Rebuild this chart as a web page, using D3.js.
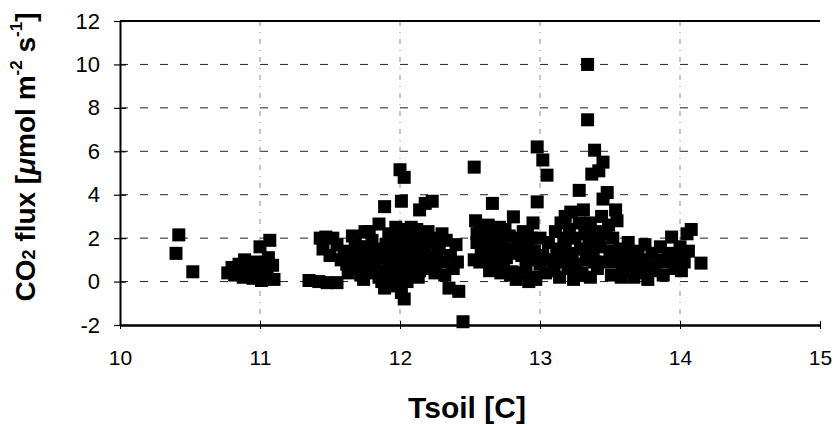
<!DOCTYPE html>
<html>
<head>
<meta charset="utf-8">
<script src="https://cdn.jsdelivr.net/npm/d3@7"></script>
<style>
  body { margin: 0; background: #fff; }
  text { font-family: "Liberation Sans", Arial, sans-serif; fill: #000; }
</style>
</head>
<body>
<div id="chart"></div>
<script>
// soil temperature [C] and CO2 flux (one entry per square)
const tsoil = [
  10.42, 10.40, 10.52,
  10.77, 10.80, 10.82, 10.85, 10.87, 10.89, 10.91, 10.93, 10.95, 10.97, 10.99, 11.00, 11.01, 11.03, 11.05, 11.07, 11.09, 11.10, 10.88, 11.06,
  11.35, 11.42, 11.48, 11.55, 11.43, 11.47, 11.52, 11.45, 11.50, 11.55, 11.58, 11.60, 11.62, 11.63, 11.65, 11.67, 11.68, 11.70, 11.72, 11.73,
  11.75, 11.76, 11.78, 11.80, 11.80, 11.82, 11.83, 11.85, 11.85, 11.87, 11.89, 11.89, 11.90, 11.90, 11.92, 11.93, 11.94, 11.95, 11.96, 11.97,
  11.98, 11.98, 12.00, 12.01, 12.00, 12.00, 12.01, 12.03, 12.03, 12.03, 12.04, 12.05, 12.06, 12.07, 12.08, 12.09, 12.10, 12.10, 12.12, 12.13,
  12.14, 12.15, 12.16, 12.18, 12.18, 12.20, 12.20, 12.23, 12.22, 12.24, 12.25, 12.27, 12.29, 12.30, 12.32, 12.33, 12.36, 12.38, 12.40, 12.41,
  12.35, 12.42, 12.45,
  11.66, 11.70, 11.74, 11.78, 11.84, 11.87, 11.92, 11.97, 12.08, 12.12, 12.02, 12.06, 12.11, 12.14, 12.17, 12.26,
  11.77, 11.81, 11.91, 11.99, 12.04, 12.13, 12.19, 12.28,
  12.53, 12.54, 12.55, 12.57, 12.58, 12.60, 12.61, 12.63, 12.65, 12.66, 12.67, 12.68, 12.70, 12.71, 12.73, 12.74, 12.76, 12.78, 12.80, 12.81,
  12.80, 12.84, 12.85, 12.87, 12.88, 12.90, 12.91, 12.93, 12.95, 12.95, 12.96, 12.98, 12.98, 13.00, 13.00, 13.02, 13.05, 13.02, 13.04,
  12.53, 12.55, 12.64, 12.72, 12.79, 12.83, 12.92, 12.97, 12.69, 12.77, 12.89, 12.94,
  12.57, 12.62, 12.66, 12.75, 12.83, 12.86, 12.91, 12.99,
  13.06, 13.08, 13.10, 13.11, 13.12, 13.14, 13.15, 13.16, 13.18, 13.18, 13.20, 13.21, 13.22, 13.23, 13.24, 13.25, 13.26, 13.28, 13.28, 13.29,
  13.30, 13.31, 13.32, 13.33, 13.34, 13.34, 13.35, 13.36, 13.36, 13.37, 13.38, 13.39, 13.40, 13.41, 13.42, 13.43, 13.44, 13.45, 13.45, 13.46,
  13.47, 13.48, 13.50, 13.51, 13.52, 13.54, 13.55, 13.55, 13.57, 13.58, 13.60, 13.62, 13.63, 13.65, 13.67, 13.68, 13.70, 13.72, 13.74, 13.75,
  13.77, 13.78, 13.80, 13.82, 13.84, 13.86, 13.88, 13.90, 13.92, 13.94, 13.96, 13.98, 14.00, 14.01, 14.03, 14.05, 14.06, 14.08, 14.15,
  13.13, 13.17, 13.19, 13.27, 13.39, 13.42, 13.49, 13.53, 13.59, 13.64, 13.71
];
const flux = [
  2.15, 1.30, 0.45,
  0.40, 0.65, 0.30, 0.80, 0.50, 1.00, 0.30, 0.60, 0.15, 0.90, 0.45, 1.60, 0.05, 0.70, 0.30, 1.90, 0.75, 0.10, 0.20, 1.10,
  0.05, 0.00, -0.05, -0.05, 2.00, 2.05, 2.00, 1.50, 1.20, 1.70, 1.00, 1.40, 0.80, 0.40, 1.20, 0.60, 1.80, 1.00, 0.30, 1.50,
  2.30, 0.70, 1.20, 1.90, 0.40, 0.90, 1.50, 2.65, 0.20, 1.10, 3.45, -0.30, 1.70, 0.50, 2.20, 0.00, 1.30, 0.80, 2.00, -0.20,
  1.50, 0.30, 5.15, 3.70, 1.00, 2.30, -0.50, -0.80, 4.80, 0.60, 1.80, 0.00, 2.40, 1.20, 0.40, 1.60, 2.10, 0.80, 1.30, 0.20,
  3.30, 1.90, 0.90, 3.60, 1.40, 2.30, 0.60, 3.70, 1.10, 2.00, 0.40, 1.50, 0.90, 2.20, 0.30, 1.90, 1.20, 0.60, 1.70, 0.90,
  -0.30, -0.45, -1.85,
  2.10, 1.60, 0.10, 2.30, 1.30, 0.00, 1.00, 2.50, 2.50, 2.40, 1.40, 0.90, 1.70, 0.50, 2.20, 1.00,
  1.60, 0.60, 1.40, 1.90, 1.00, 1.10, 1.80, 1.80,
  5.27, 2.80, 1.80, 2.40, 1.40, 2.10, 1.00, 2.60, 1.60, 3.60, 2.20, 0.80, 1.30, 2.50, 1.80, 0.60, 1.10, 2.10, 1.50, 2.98,
  0.45, 1.90, 0.40, 1.20, 2.30, 0.60, 1.60, 1.00, 2.70, 0.20, 1.40, 3.67, 6.20, 0.80, 2.00, 5.60, 4.90, 1.20, 0.40,
  1.00, 2.20, 0.50, 0.40, 0.30, 0.10, 0.00, 0.10, 1.90, 1.50, 1.70, 2.00,
  0.90, 1.80, 1.10, 2.40, 1.30, 2.00, 2.20, 1.10,
  1.80, 1.00, 0.50, 2.30, 1.50, 0.20, 2.70, 1.00, 3.00, 1.80, 0.60, 2.40, 3.20, 1.30, 0.10, 2.00, 0.80, 4.20, 2.70, 1.50,
  0.40, 3.30, 2.20, 1.00, 10.00, 7.45, 1.80, 2.70, 0.20, 4.95, 1.30, 6.05, 2.30, 0.60, 5.10, 1.60, 3.00, 5.50, 3.80, 0.90,
  2.20, 4.10, 1.40, 0.30, 2.00, 3.30, 2.80, 0.90, 1.50, 0.20, 1.00, 0.50, 1.80, 1.30, 0.20, 0.80, 1.40, 0.40, 1.00, 1.70,
  0.10, 0.70, 1.30, 0.50, 1.00, 1.60, 0.30, 0.90, 1.30, 2.05, 0.60, 1.10, 1.60, 0.50, 0.90, 2.20, 1.40, 2.40, 0.85,
  0.90, 2.00, 1.20, 0.30, 0.90, 1.90, 2.60, 1.10, 0.60, 0.90, 0.80
];
const xTicks = [10, 11, 12, 13, 14, 15];
const yTicks = [-2, 0, 2, 4, 6, 8, 10, 12];

const width = 836;
const height = 430;
const margin = { top: 21, right: 16, bottom: 105, left: 120 };

const x = d3.scaleLinear()
    .domain([10, 15])
    .range([margin.left, width - margin.right]);

const y = d3.scaleLinear()
    .domain([-2, 12])
    .range([height - margin.bottom, margin.top]);

const svg = d3.select("#chart")
  .append("svg")
    .attr("width", width)
    .attr("height", height);

// horizontal dashed grid
svg.append("g")
  .selectAll("line")
  .data(yTicks.filter(d => d > -2 && d < 12))
  .join("line")
    .attr("x1", x(10))
    .attr("x2", x(15))
    .attr("y1", d => y(d))
    .attr("y2", d => y(d))
    .attr("stroke", "#222")
    .attr("stroke-width", 1)
    .attr("stroke-dasharray", "8,12");

// vertical dash-dot grid
svg.append("g")
  .selectAll("line")
  .data(xTicks.filter(d => d > 10 && d < 15))
  .join("line")
    .attr("x1", d => x(d))
    .attr("x2", d => x(d))
    .attr("y1", y(12))
    .attr("y2", y(-2))
    .attr("stroke", "#888")
    .attr("stroke-width", 1)
    .attr("stroke-dasharray", "5,6,1,6");

// top frame line
svg.append("line")
    .attr("x1", x(10))
    .attr("x2", x(15))
    .attr("y1", y(12))
    .attr("y2", y(12))
    .attr("stroke", "#000")
    .attr("stroke-width", 2);

// y axis
const yAxis = svg.append("g")
    .attr("transform", `translate(${x(10)},0)`)
    .call(d3.axisLeft(y).tickValues(yTicks).tickFormat(d => String(d))
      .tickSizeInner(6).tickSizeOuter(0).tickPadding(14));
yAxis.select(".domain").attr("stroke-width", 2);
yAxis.selectAll(".tick line").attr("x2", 6).attr("x1", -6).attr("stroke-width", 1.2);
yAxis.selectAll("text").style("font-size", "22px");

// x axis
const xAxis = svg.append("g")
    .attr("transform", `translate(0,${y(-2)})`)
    .call(d3.axisBottom(x).tickValues(xTicks).tickFormat(d => String(d))
      .tickSizeInner(4).tickSizeOuter(0).tickPadding(21));
xAxis.select(".domain").attr("stroke-width", 2.5);
xAxis.selectAll(".tick line").attr("y1", -4).attr("stroke-width", 1);
xAxis.selectAll("text").style("font-size", "21px");

// squares
const size = 13;
svg.append("g")
  .selectAll("rect")
  .data(d3.range(tsoil.length))
  .join("rect")
    .attr("x", i => x(tsoil[i]) - size / 2)
    .attr("y", i => y(flux[i]) - size / 2)
    .attr("width", size)
    .attr("height", size)
    .attr("fill", "#000");

// axis titles
svg.append("text")
    .attr("x", 467)
    .attr("y", 418)
    .attr("text-anchor", "middle")
    .style("font-size", "30px")
    .style("font-weight", "bold")
    .text("Tsoil [C]");

const yTitle = svg.append("text")
    .attr("transform", "translate(35,157) rotate(-90)")
    .attr("text-anchor", "middle")
    .style("font-size", "28px")
    .style("font-weight", "bold");
yTitle.append("tspan").text("CO");
yTitle.append("tspan").style("font-size", "18px").text("2");
yTitle.append("tspan").text(" flux [");
yTitle.append("tspan").style("font-style", "italic").text("\u03bc");
yTitle.append("tspan").text("mol m");
yTitle.append("tspan").style("font-size", "17px").attr("dy", -13).text("-2");
yTitle.append("tspan").attr("dy", 13).text(" s");
yTitle.append("tspan").style("font-size", "17px").attr("dy", -13).text("-1");
yTitle.append("tspan").attr("dy", 13).text("]");
</script>
</body>
</html>
